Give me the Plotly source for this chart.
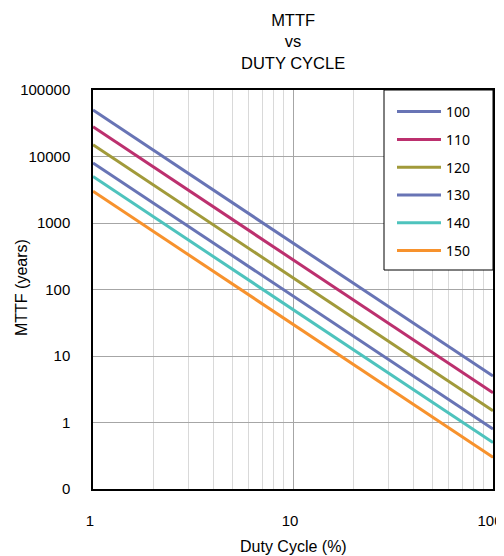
import plotly.graph_objects as go

duty_cycle = [1, 10, 100]
series_names = ["100", "110", "120", "130", "140", "150"]
mttf_100 = [50000, 500, 5]
mttf_110 = [28000, 280, 2.8]
mttf_120 = [15000, 150, 1.5]
mttf_130 = [8000, 80, 0.8]
mttf_140 = [5000, 50, 0.5]
mttf_150 = [3000, 30, 0.3]
series_values = [mttf_100, mttf_110, mttf_120, mttf_130, mttf_140, mttf_150]
colors = ["#6874B5", "#BC306E", "#A19A3A", "#6874B5", "#4EC3BD", "#F7922D"]

y_tickvals = [0.1, 1, 10, 100, 1000, 10000, 100000]
y_ticktext = ["0", "1", "10", "100", "1000", "10000", "100000"]
x_tickvals = [1, 10, 100]
x_ticktext = ["1", "10", "100"]

# page body has an 8px margin; the figure is offset by it inside the window
OFF = 8
W, H = 504, 556 - OFF
# plot area in window pixels: left 93, right 493, top 90, bottom 489
PL, PR, PT, PB = 93, 493, 90, 489
L, T = PL - OFF, PT - OFF
R, B = W - (PR - OFF), H - (PB - OFF)
PW, PH = PR - PL, PB - PT


def px_x(x):
    return (x - PL) / PW


def px_y(y):
    return (PB - y) / PH


fig = go.Figure()
for name, vals, col in zip(series_names, series_values, colors):
    fig.add_trace(go.Scatter(x=duty_cycle, y=vals, mode="lines", name=name,
                             legendgroup=name,
                             line=dict(color=col, width=3)))

FONT = "Liberation Sans, Arial, sans-serif"
fig.update_layout(
    width=W, height=H,
    margin=dict(l=L, r=R, t=T, b=B, autoexpand=False),
    paper_bgcolor="white", plot_bgcolor="white",
    font=dict(family=FONT, size=15, color="black"),
    showlegend=True,
    legend=dict(x=px_x(392), y=px_y(96), xanchor="left", yanchor="top",
                bgcolor="rgba(0,0,0,0)", borderwidth=0, itemwidth=44,
                tracegroupgap=6.6, font=dict(size=14, family="Noto Sans, sans-serif")),
    shapes=[dict(type="rect", xref="paper", yref="paper", x0=px_x(384), x1=1.0,
                 y0=px_y(270), y1=1.0, line=dict(color="black", width=1),
                 fillcolor="white", layer="above")],
    annotations=[
        dict(text="MTTF<br>vs<br>DUTY CYCLE", xref="paper", yref="paper",
             x=0.5, y=px_y(41.5), xanchor="center", yanchor="middle",
             showarrow=False, font=dict(size=16.5, family=FONT)),
        dict(text="Duty Cycle (%)", xref="paper", yref="paper",
             x=0.5, y=px_y(546), xanchor="center", yanchor="middle",
             showarrow=False, font=dict(size=16, family=FONT)),
        dict(text="MTTF (years)", xref="paper", yref="paper", textangle=-90,
             x=px_x(21), y=px_y(288), xanchor="center", yanchor="middle",
             showarrow=False, font=dict(size=16, family=FONT)),
    ],
)
fig.update_xaxes(type="log", range=[0, 2], tickvals=x_tickvals, ticktext=x_ticktext,
                 showgrid=True, gridcolor="#A6A6A6", gridwidth=1,
                 minor=dict(showgrid=True, gridcolor="#D9D9D9", gridwidth=1,
                            dtick="D1"),
                 showline=True, linecolor="black", linewidth=1.5, mirror=True,
                 ticks="", ticklabelstandoff=17, ticklabelshift=-3,
                 ticklabeloverflow="allow", zeroline=False, automargin=False)
fig.update_yaxes(type="log", range=[-1, 5], tickvals=y_tickvals, ticktext=y_ticktext,
                 showgrid=True, gridcolor="#A6A6A6", gridwidth=1,
                 showline=True, linecolor="black", linewidth=1.5, mirror=True,
                 ticks="", ticklabelstandoff=18, ticklabeloverflow="allow",
                 zeroline=False, automargin=False)

fig.write_html("out.html")
